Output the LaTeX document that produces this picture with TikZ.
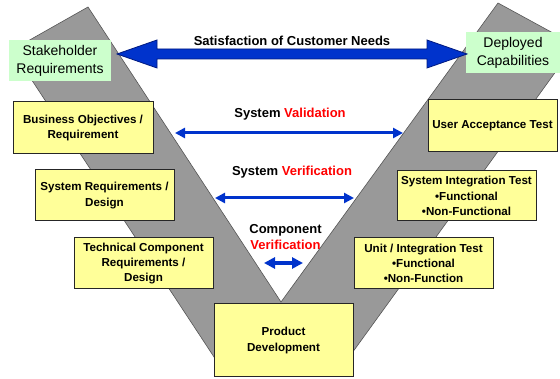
\documentclass[tikz,border=0pt]{standalone}
\usepackage{fontspec}
\setmainfont{Liberation Sans}
\usetikzlibrary{arrows.meta,calc}
\definecolor{vgrey}{HTML}{999999}
\definecolor{vedge}{HTML}{555555}
\definecolor{boxyellow}{HTML}{FFFF99}
\definecolor{boxgreen}{HTML}{CCFFCC}
\definecolor{arrowblue}{HTML}{0033CC}
\definecolor{arrowdark}{HTML}{001A80}
\definecolor{accentred}{HTML}{FF0000}

\begin{document}
\begin{tikzpicture}[x=1pt,y=-1pt,
  stepbox/.style={draw=black!85, line width=1pt, fill=boxyellow, align=center,
    font=\fontsize{11.6}{15.3}\selectfont\bfseries, inner sep=0pt},
  endbox/.style={fill=boxgreen, align=center,
    font=\fontsize{14}{18}\selectfont, inner sep=0pt},
  vlabel/.style={font=\fontsize{13}{16}\selectfont\bfseries, align=center, inner sep=0pt},
  thinarrow/.style={draw=arrowblue, line width=3pt,
    {Triangle[length=10pt,width=10pt]}-{Triangle[length=10pt,width=10pt]}},
  shortarrow/.style={draw=arrowblue, line width=3.5pt,
    {Triangle[length=11pt,width=11pt]}-{Triangle[length=11pt,width=11pt]}}
]
\useasboundingbox (0,0) rectangle (560,379);

% the grey V band
\begin{scope}
  \clip (0,0) rectangle (560,379);
  \filldraw[fill=vgrey, draw=vedge, line width=0.6pt]
    (12,50) -- (88,7) -- (281,302) -- (498,3) -- (575,45) -- (347,360) -- (216,360) -- cycle;
\end{scope}

% end points of the life cycle
\node[endbox, minimum width=102pt, minimum height=41pt] (stake) at (60,60.5) {Stakeholder\\Requirements};
\node[endbox, minimum width=94pt, minimum height=41pt] (deployed) at (513,52.5) {Deployed\\Capabilities};

% left arm: definition
\node[stepbox, minimum width=140pt, minimum height=52pt] (bizobj) at (83,128) {Business Objectives /\\Requirement};
\node[stepbox, minimum width=139pt, minimum height=51pt] (sysreq) at (104.5,195.5) {System Requirements /\\Design};
\node[stepbox, minimum width=139pt, minimum height=51pt] (techcomp) at (143.5,263.5) {Technical Component\\Requirements /\\Design};

% bottom
\node[stepbox, minimum width=139pt, minimum height=73pt] (product) at (283.5,340.5) {Product\\Development};

% right arm: testing
\node[stepbox, minimum width=129pt, minimum height=52pt] (uat) at (492.5,126) {User Acceptance Test};
\node[stepbox, minimum width=139pt, minimum height=50pt] (sit) at (466.5,196) {System Integration Test\\•Functional\\•Non-Functional};
\node[stepbox, minimum width=139pt, minimum height=51pt] (unit) at (423.5,263.5) {Unit / Integration Test\\•Functional\\•Non-Function};

% customer needs arrow
\coordinate (satL) at (117,54);
\coordinate (satR) at (467,54);
\filldraw[fill=arrowblue, draw=arrowdark, line width=0.8pt]
  (satL) -- ($(satL)+(40,-14)$) -- ($(satL)+(40,-5)$) -- ($(satR)+(-40,-5)$)
  -- ($(satR)+(-40,-14)$) -- (satR) -- ($(satR)+(-40,14)$) -- ($(satR)+(-40,5)$)
  -- ($(satL)+(40,5)$) -- ($(satL)+(40,14)$) -- cycle;
\node[vlabel] (satlabel) at (292,41) {Satisfaction of Customer Needs};

% validation
\coordinate (valL) at (175,133);
\coordinate (valR) at (403,133);
\draw[thinarrow] (valL) -- (valR);
\node[vlabel] (vallabel) at (290,114) {System \textcolor{accentred}{Validation}};

% system verification
\coordinate (sverL) at (215,198);
\coordinate (sverR) at (354,198);
\draw[thinarrow] (sverL) -- (sverR);
\node[vlabel] (sverlabel) at (292,172) {System \textcolor{accentred}{Verification}};

% component verification
\node[vlabel] (cverlabel) at (285.5,237.5) {Component\\\textcolor{accentred}{Verification}};
\coordinate (cverL) at (264,263);
\coordinate (cverR) at (303,263);
\draw[shortarrow] (cverL) -- (cverR);
\end{tikzpicture}
\end{document}
